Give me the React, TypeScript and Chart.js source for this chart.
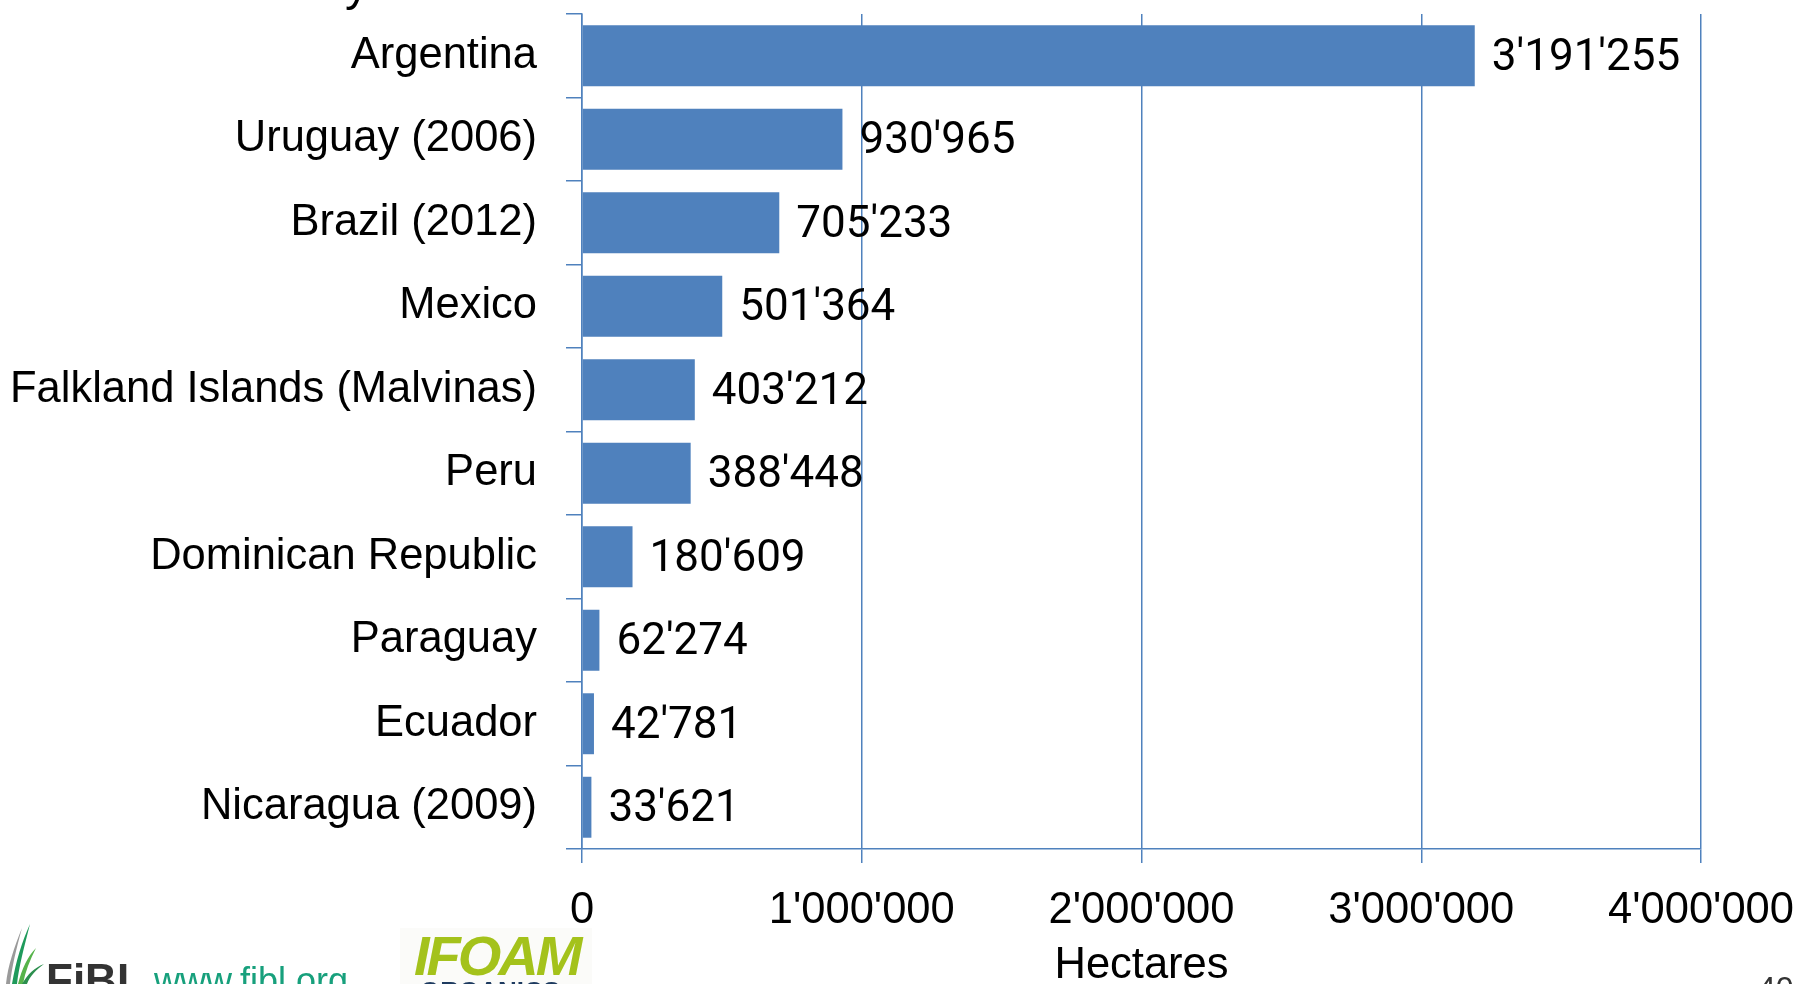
import React, { useEffect, useRef } from "react";
import { Chart, registerables } from "chart.js";

Chart.register(...registerables);

const countries = [
  "Argentina",
  "Uruguay (2006)",
  "Brazil (2012)",
  "Mexico",
  "Falkland Islands (Malvinas)",
  "Peru",
  "Dominican Republic",
  "Paraguay",
  "Ecuador",
  "Nicaragua (2009)",
];
const hectares = [3191255, 930965, 705233, 501364, 403212, 388448, 180609, 62274, 42781, 33621];
const xTickValues = [0, 1000000, 2000000, 3000000, 4000000];
const axisTitle = "Hectares";

const BLUE = "#4F81BD";
const LABEL_FONT = "'Liberation Sans', Arial, sans-serif";
const VALUE_FONT = "Roboto, 'Liberation Sans', sans-serif";
const LABEL_SIZE = 43.5;

function fmt(n: number): string {
  return String(Math.round(n)).replace(/\B(?=(\d{3})+(?!\d))/g, "'");
}

const valueLabels = {
  id: "valueLabels",
  afterDatasetsDraw(chart: any) {
    const ctx = chart.ctx;
    const meta = chart.getDatasetMeta(0);
    const values = chart.data.datasets[0].data as number[];
    ctx.save();
    ctx.font = `44px ${VALUE_FONT}`;
    ctx.fillStyle = "#000";
    ctx.textBaseline = "middle";
    ctx.textAlign = "left";
    meta.data.forEach((bar: any, i: number) => {
      ctx.fillText(fmt(values[i]), bar.x + 17, bar.y + 3);
    });
    ctx.restore();
  },
};

function GrassLogo() {
  return (
    <svg width="50" height="64" viewBox="0 0 50 64" style={{ position: "absolute", left: 0, top: 920 }}>
      <path d="M6 64 C 8 45, 14 28, 22 8 C 16 30, 12 46, 10 64 Z" fill="#9a9a9a" />
      <path d="M12 64 C 16 40, 22 22, 30 4 C 24 28, 19 46, 17 64 Z" fill="#1f9a5b" />
      <path d="M18 64 C 22 48, 28 36, 36 28 C 30 40, 25 52, 23 64 Z" fill="#56b34a" />
      <path d="M22 64 C 28 54, 34 48, 44 44 C 36 50, 30 56, 27 64 Z" fill="#2c8f4e" />
    </svg>
  );
}

export default function App() {
  const canvasRef = useRef<HTMLCanvasElement | null>(null);

  useEffect(() => {
    if (!canvasRef.current) return;
    const chart = new Chart(canvasRef.current, {
      type: "bar",
      data: {
        labels: countries,
        datasets: [
          {
            data: hectares,
            backgroundColor: BLUE,
            borderWidth: 0,
            barPercentage: 0.73,
            categoryPercentage: 1,
          },
        ],
      },
      options: {
        indexAxis: "y",
        responsive: false,
        animation: false,
        layout: { padding: { top: 14, right: 101, left: 0, bottom: 0 } },
        plugins: {
          legend: { display: false },
          tooltip: { enabled: false },
          title: { display: false },
        },
        scales: {
          x: {
            min: xTickValues[0],
            max: xTickValues[xTickValues.length - 1],
            afterBuildTicks: (scale: any) => {
              scale.ticks = xTickValues.map((v) => ({ value: v }));
            },
            ticks: {
              callback: (v: any) => fmt(Number(v)),
              font: { family: LABEL_FONT, size: LABEL_SIZE },
              color: "#000",
              padding: 22,
              maxRotation: 0,
              autoSkip: false,
            },
            grid: { color: BLUE, lineWidth: 1.5, tickLength: 14 },
            border: { color: BLUE, width: 1.5 },
            title: {
              display: true,
              text: axisTitle,
              color: "#000",
              font: { family: LABEL_FONT, size: LABEL_SIZE, lineHeight: 1 },
              padding: { top: 0, bottom: -4 },
            },
            afterFit: (scale: any) => {
              scale.height = 984 - 849;
              scale.paddingLeft = 0;
              scale.paddingRight = 0;
            },
          },
          y: {
            ticks: {
              font: { family: LABEL_FONT, size: LABEL_SIZE },
              color: "#000",
              padding: 29,
              autoSkip: false,
            },
            grid: { drawOnChartArea: false, offset: true, tickLength: 16, color: BLUE, lineWidth: 1.5 },
            border: { color: BLUE, width: 1.5 },
            afterFit: (scale: any) => {
              scale.width = 582;
              scale.paddingTop = 0;
              scale.paddingBottom = 0;
            },
          },
        },
      },
      plugins: [valueLabels],
    } as any);
    return () => chart.destroy();
  }, []);

  return (
    <div
      style={{
        position: "absolute",
        left: 0,
        top: 0,
        width: 1802,
        height: 984,
        overflow: "hidden",
        background: "#fff",
      }}
    >
      <div
        style={{
          position: "absolute",
          left: 400,
          top: 928,
          width: 192,
          height: 60,
          background: "#fbfbf9",
        }}
      />
      <canvas ref={canvasRef} width={1802} height={984} style={{ position: "absolute", left: 0, top: 0 }} />
      <div
        style={{
          position: "absolute",
          left: 345,
          top: -46,
          font: `48px ${LABEL_FONT}`,
          color: "#000",
          lineHeight: "60px",
        }}
      >
        y
      </div>
      <GrassLogo />
      <div
        style={{
          position: "absolute",
          left: 46,
          top: 955,
          font: "bold 44px 'Liberation Sans', Arial, sans-serif",
          color: "#333",
          lineHeight: "50px",
        }}
      >
        FiBL
      </div>
      <div
        style={{
          position: "absolute",
          left: 154,
          top: 960,
          font: "36px 'Liberation Sans', Arial, sans-serif",
          color: "#17a07c",
          lineHeight: "42px",
        }}
      >
        www.fibl.org
      </div>
      <div
        style={{
          position: "absolute",
          left: 414,
          top: 927,
          font: "italic bold 56px 'Liberation Sans', Arial, sans-serif",
          color: "#a4c21b",
          lineHeight: "58px",
          letterSpacing: "-3px",
        }}
      >
        IFOAM
      </div>
      <div
        style={{
          position: "absolute",
          left: 420,
          top: 976,
          font: "bold 26px 'Liberation Sans', Arial, sans-serif",
          color: "#1d3a5f",
          lineHeight: "30px",
        }}
      >
        ORGANICS
      </div>
      <div
        style={{
          position: "absolute",
          left: 1758,
          top: 968,
          font: "32px 'Liberation Sans', Arial, sans-serif",
          color: "#333",
          lineHeight: "40px",
        }}
      >
        40
      </div>
    </div>
  );
}
